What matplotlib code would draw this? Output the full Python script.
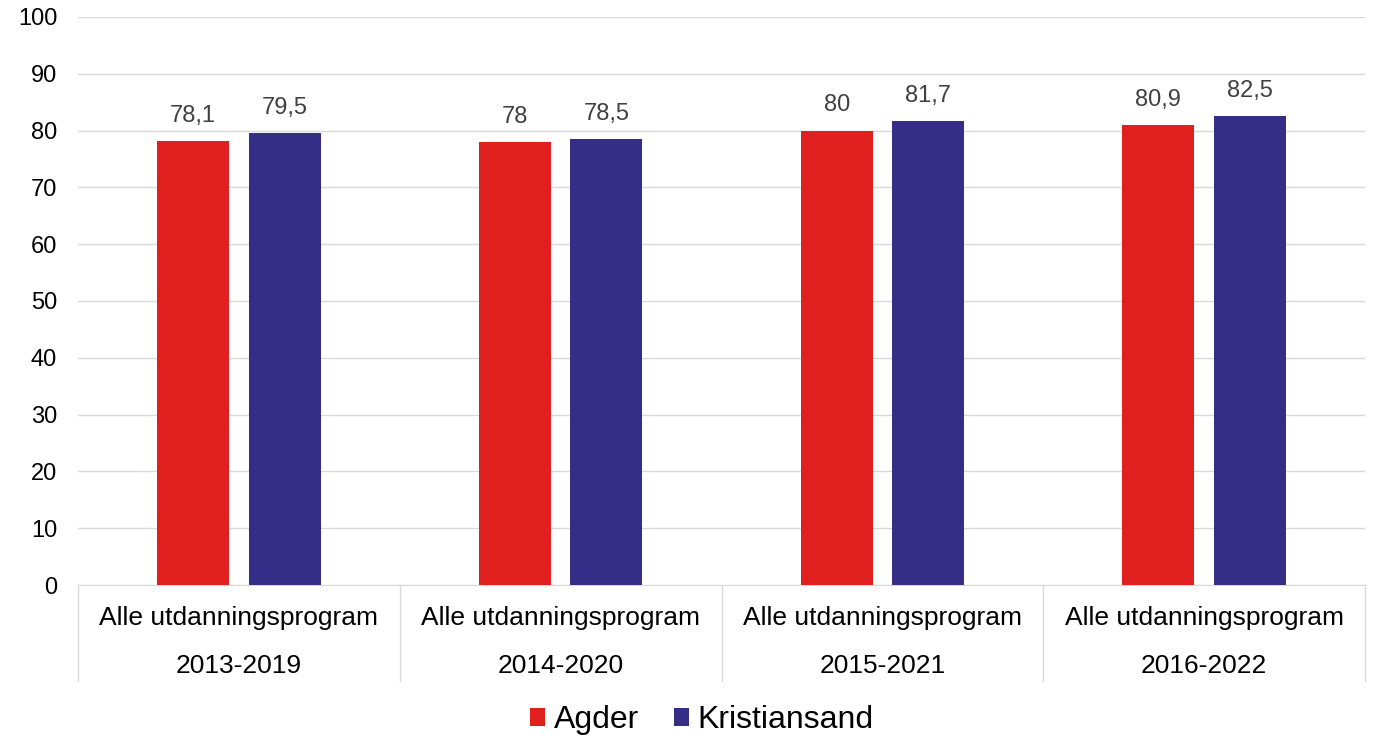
import matplotlib
matplotlib.use("Agg")
import matplotlib.pyplot as plt
import matplotlib.transforms as mtransforms
import numpy as np

plt.rcParams['font.family'] = ['Liberation Sans', 'DejaVu Sans']

programs = ["Alle utdanningsprogram"] * 4
periods = ["2013-2019", "2014-2020", "2015-2021", "2016-2022"]
agder = [78.1, 78, 80, 80.9]
kristiansand = [79.5, 78.5, 81.7, 82.5]
series_names = ["Agder", "Kristiansand"]
colors = ["#e01f1f", "#352d86"]

fig = plt.figure(figsize=(13.76, 7.35), dpi=100)
ax = fig.add_axes([0.0567, 0.204, 0.9353, 0.773])

x = np.arange(len(periods))
w = 0.224
off = 0.142
b1 = ax.bar(x - off, agder, w, color=colors[0], label=series_names[0], zorder=3)
b2 = ax.bar(x + off, kristiansand, w, color=colors[1], label=series_names[1], zorder=3)

for bars, vals in [(b1, agder), (b2, kristiansand)]:
    for rect, v in zip(bars, vals):
        ax.text(rect.get_x() + rect.get_width() / 2, v + 2.5, f"{v:g}".replace(".", ","),
                ha="center", va="bottom", fontsize=17, color="#404040")

ax.set_xlim(-0.5, len(periods) - 0.5)
ax.set_ylim(0, 100)
ax.set_yticks(range(0, 101, 10))
ax.tick_params(axis="y", length=0, labelsize=17, pad=15)
ax.tick_params(axis="x", length=0, labelbottom=False)
ax.grid(True, axis="y", color="#d9d9d9", linewidth=1, zorder=0)
for s in ["left", "right", "top"]:
    ax.spines[s].set_visible(False)
ax.spines["bottom"].set_color("#d9d9d9")

# two-level category axis
trans = mtransforms.blended_transform_factory(ax.transData, ax.transAxes)
for xb in np.arange(len(periods) + 1) - 0.5:
    ax.plot([xb, xb], [0, -0.168], transform=trans, color="#d9d9d9",
            linewidth=1, clip_on=False)
for i, (p, per) in enumerate(zip(programs, periods)):
    ax.text(i, -0.058, p, transform=trans, ha="center", va="center", fontsize=19)
    ax.text(i, -0.142, per, transform=trans, ha="center", va="center", fontsize=19)

fig.legend(handles=[b1, b2], loc="center", bbox_to_anchor=(0.51, 0.02), ncol=2,
           frameon=False, fontsize=23, handlelength=0.47, handleheight=0.47,
           handletextpad=0.28, columnspacing=1.1)

fig.savefig("out.png", dpi=100)
